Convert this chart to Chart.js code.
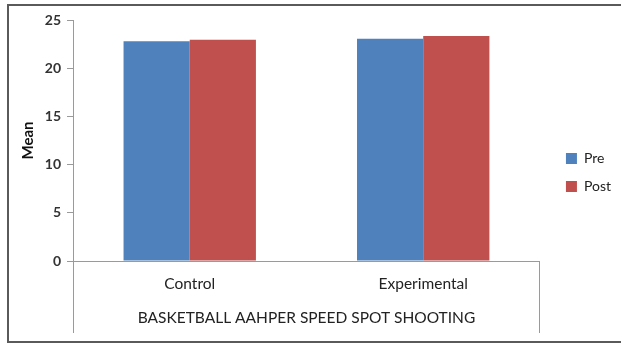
<!DOCTYPE html>
<html>
<head>
<meta charset="utf-8">
<script src="https://cdn.jsdelivr.net/npm/chart.js@4"></script>
<style>
  html, body { margin: 0; padding: 0; background: #fff; overflow: hidden; }
  #wrap { width: 621px; height: 345px; overflow: hidden; }
</style>
</head>
<body>
<div id="wrap">
  <canvas id="myChart" width="633" height="345"></canvas>
</div>
<script>
const categories = ['Control', 'Experimental'];
const seriesNames = ['Pre', 'Post'];
const preValues = [22.8, 23.05];
const postValues = [22.95, 23.35];
const yTicks = [0, 5, 10, 15, 20, 25];

const axisFont = 'Lato, "Open Sans", sans-serif';
const axisColor = '#9a9a9a';

// frame around the whole chart (right side is cut off in the original)
const frame = {
  id: 'frame',
  afterDraw(chart) {
    const { ctx, width } = chart;
    ctx.save();
    ctx.strokeStyle = '#5a5a5a';
    ctx.lineWidth = 2;
    ctx.beginPath();
    ctx.moveTo(7, 5);
    ctx.lineTo(width, 5);
    ctx.moveTo(8, 4);
    ctx.lineTo(8, 343);
    ctx.moveTo(7, 342);
    ctx.lineTo(width, 342);
    ctx.stroke();
    ctx.restore();
  },
};

const data = {
  labels: categories,
  datasets: [
    {
      label: seriesNames[0],
      data: preValues,
      backgroundColor: '#4f81bd',
      borderColor: '#4f81bd',
      borderWidth: 0,
    },
    {
      label: seriesNames[1],
      data: postValues,
      backgroundColor: '#c0504d',
      borderColor: '#c0504d',
      borderWidth: 0,
    },
  ],
};

const config = {
  type: 'bar',
  data: data,
  options: {
    responsive: false,
    animation: false,
    devicePixelRatio: 1,
    layout: {
      padding: { left: 9, top: 12, right: 12, bottom: 12 },
    },
    datasets: {
      bar: {
        categoryPercentage: 0.567,
        barPercentage: 1,
      },
    },
    plugins: {
      tooltip: { enabled: false },
      legend: {
        position: 'right',
        labels: {
          boxWidth: 11,
          boxHeight: 11,
          padding: 14,
          color: '#222',
          font: { family: axisFont, size: 14 },
        },
      },
    },
    scales: {
      x: {
        grid: {
          drawOnChartArea: false,
          drawTicks: true,
          tickLength: 72,
          color: (c) => (c.index === 1 ? 'rgba(0,0,0,0)' : axisColor),
        },
        border: { display: true, color: axisColor },
        ticks: {
          padding: -58,
          color: '#222',
          font: { family: axisFont, size: 15.5 },
        },
        title: {
          display: true,
          text: 'BASKETBALL AAHPER SPEED SPOT SHOOTING',
          color: '#222',
          font: { family: axisFont, size: 15.5 },
          padding: { top: 0, bottom: 6 },
        },
        afterFit: (s) => {
          s.height = 72;
        },
      },
      y: {
        min: 0,
        max: 25,
        afterBuildTicks: (s) => {
          s.ticks = yTicks.map((v) => ({ value: v }));
        },
        grid: {
          drawOnChartArea: false,
          drawTicks: true,
          tickLength: 6,
          color: axisColor,
        },
        border: { display: true, color: axisColor },
        ticks: {
          padding: 6,
          color: '#333',
          font: { family: axisFont, size: 14, weight: 'bold' },
        },
        title: {
          display: true,
          text: 'Mean',
          color: '#111',
          font: { family: axisFont, size: 15, weight: 'bold' },
          padding: { top: 10, bottom: 0 },
        },
        afterFit: (s) => {
          s.width = 64;
        },
      },
      // empty spacers: above the plot and between plot and legend
      gapTop: {
        type: 'linear',
        axis: 'x',
        position: 'top',
        min: 0,
        max: 1,
        grid: { display: false },
        border: { display: false },
        ticks: { display: false },
        afterFit: (s) => {
          s.height = 8;
        },
      },
      gap: {
        type: 'linear',
        axis: 'y',
        position: 'right',
        min: 0,
        max: 1,
        grid: { display: false },
        border: { display: false },
        ticks: { display: false },
        afterFit: (s) => {
          s.width = 12;
        },
      },
    },
  },
  plugins: [frame],
};

const ctx = document.getElementById('myChart');
const myChart = new Chart(ctx, config);
</script>
</body>
</html>
